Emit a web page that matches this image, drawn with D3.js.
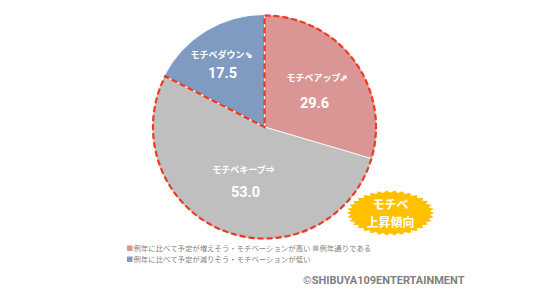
<!DOCTYPE html>
<html>
<head>
<meta charset="utf-8">
<script src="https://cdn.jsdelivr.net/npm/d3@7"></script>
<style>
body { margin: 0; background: #fff; }
text { font-family: "Noto Sans CJK JP", "Noto Sans", sans-serif; }
</style>
</head>
<body>
<script>
var width = 536, height = 292;
// Data
var categories = ['up', 'keep', 'down'];
var sliceLabels = ['モチベアップ⇗', 'モチベキープ⇒', 'モチベダウン⇘'];
var values = [29.6, 53.0, 17.5];
var colors = ['#D99694', '#BFBFBF', '#7F9BC1'];
var legendLabels = ['例年に比べて予定が増えそう・モチベーションが高い', '例年通りである', '例年に比べて予定が減りそう・モチベーションが低い'];

var cx = 264.5, cy = 127, r = 112.5;

var svg = d3.select('body').append('svg')
	.attr('width', width)
	.attr('height', height);

var g = svg.append('g').attr('transform', 'translate(' + cx + ',' + cy + ')');

var pie = d3.pie().sort(null).value(function(d) { return d; });
var arcs = pie(values);
var arc = d3.arc().innerRadius(0).outerRadius(r);

g.selectAll('.slice').data(arcs).enter().append('path')
	.attr('class', 'slice')
	.attr('d', arc)
	.style('fill', function(d, i) { return colors[i]; })
	.style('stroke', '#fff')
	.style('stroke-width', 0.8);

//Dashed outline around up + keep
var upper = d3.arc().innerRadius(0).outerRadius(r - 1)
	.startAngle(arcs[0].startAngle).endAngle(arcs[1].endAngle);
g.append('path')
	.attr('d', upper())
	.style('fill', 'none')
	.style('stroke', '#F0391E')
	.style('stroke-width', 2.2)
	.style('stroke-dasharray', '6,3');

//Slice labels
var labelPos = [[53, -46], [-21, 46], [-43, -69]];
var valPos = [[50, -19], [-19, 70], [-42, -49]];
g.selectAll('.lab').data(arcs).enter().append('text')
	.attr('class', 'lab')
	.attr('x', function(d, i) { return labelPos[i][0]; })
	.attr('y', function(d, i) { return labelPos[i][1]; })
	.attr('text-anchor', 'middle')
	.style('fill', '#fff')
	.style('font-size', '9px')
	.style('font-weight', 'bold')
	.text(function(d, i) { return sliceLabels[i]; });
g.selectAll('.val').data(arcs).enter().append('text')
	.attr('class', 'val')
	.attr('x', function(d, i) { return valPos[i][0]; })
	.attr('y', function(d, i) { return valPos[i][1]; })
	.attr('text-anchor', 'middle')
	.style('fill', '#fff')
	.style('font-size', '14.5px')
	.style('font-weight', 'bold')
	.style('font-family', 'Roboto, sans-serif')
	.text(function(d, i) { return values[i].toFixed(1); });

//Starburst badge
var bx = 390.5, by = 213, brx = 44, bry = 22.5, spikes = 34;
var pts = [];
for (var k = 0; k < spikes * 2; ++k) {
	var a = k * Math.PI / spikes;
	var f = (k % 2 == 0) ? 1 : 0.9;
	pts.push([bx + Math.cos(a) * brx * f, by + Math.sin(a) * bry * f]);
}
svg.append('path')
	.attr('d', d3.line()(pts) + 'Z')
	.style('fill', '#FFC000');
svg.append('text').attr('x', bx).attr('y', by - 4)
	.attr('text-anchor', 'middle')
	.style('fill', '#fff').style('font-size', '12px').style('font-weight', 'bold')
	.text('モチベ');
svg.append('text').attr('x', bx).attr('y', by + 14)
	.attr('text-anchor', 'middle')
	.style('fill', '#fff').style('font-size', '12px').style('font-weight', 'bold')
	.text('上昇傾向');

//Legend
var legendPos = [[127, 251], [313, 251], [127, 262]];
var legendColor = [colors[0], colors[1], colors[2]];
var leg = svg.selectAll('.leg').data(legendLabels).enter().append('g')
	.attr('class', 'leg')
	.attr('transform', function(d, i) { return 'translate(' + legendPos[i][0] + ',' + legendPos[i][1] + ')'; });
leg.append('rect')
	.attr('x', 0).attr('y', -5.5)
	.attr('width', 5.5).attr('height', 5.5)
	.style('fill', function(d, i) { return legendColor[i]; });
leg.append('text')
	.attr('x', 6.5).attr('y', 0)
	.style('fill', '#7F7F7F')
	.style('font-size', '7.4px')
	.text(function(d) { return d; });

//Copyright
svg.append('text')
	.attr('x', 303).attr('y', 284)
	.style('fill', '#7F7F7F')
	.style('font-size', '11px')
	.style('font-weight', 'bold')
	.style('font-family', 'Roboto, sans-serif')
	.text('©SHIBUYA109ENTERTAINMENT');
</script>
</body>
</html>
